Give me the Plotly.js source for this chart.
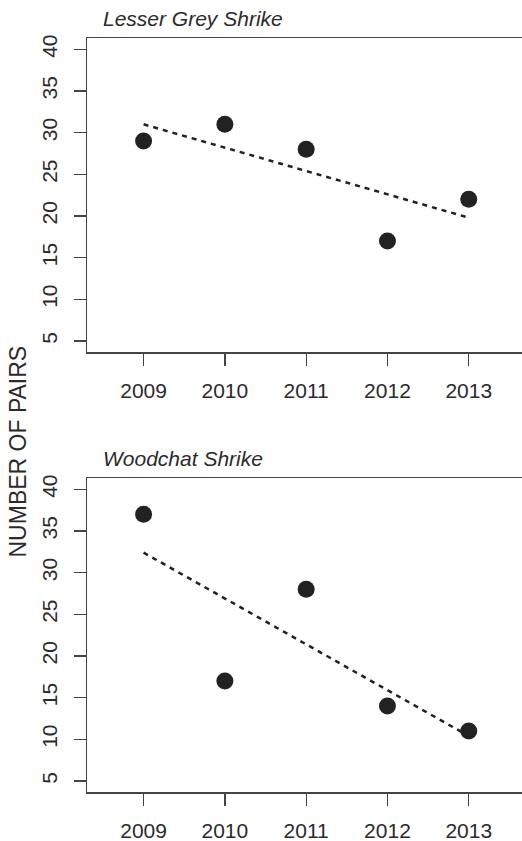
<!DOCTYPE html>
<html>
<head>
<meta charset="utf-8">
<script src="https://cdn.plot.ly/plotly-3.0.1.min.js"></script>
<style>
html,body{margin:0;padding:0;background:#fff;}
#chart{width:522px;height:841px;}
</style>
</head>
<body>
<div id="chart"></div>
<script>
// Data
const years = [2009, 2010, 2011, 2012, 2013];
const lesserGrey = [29, 31, 28, 17, 22];
const woodchat = [37, 17, 28, 14, 11];
const trendYears = [2009, 2013];
const lesserGreyTrend = [31.0, 19.8];
const woodchatTrend = [32.4, 10.4];
const panelTitles = ["Lesser Grey Shrike", "Woodchat Shrike"];
const yTicks = [5, 10, 15, 20, 25, 30, 35, 40];
const yAxisTitle = "NUMBER OF PAIRS";

const FONT = "Liberation Sans, Arial, sans-serif";
const TXT = "#2b2b2b";
const LINE = "#444";

function pts(y, xa, ya) {
  return {x: years, y: y, xaxis: xa, yaxis: ya, type: "scatter", mode: "markers",
    marker: {size: 17, color: "#222"}, hoverinfo: "skip", showlegend: false, cliponaxis: false};
}
function trend(y, xa, ya) {
  return {x: trendYears, y: y, xaxis: xa, yaxis: ya, type: "scatter", mode: "lines",
    line: {color: "#222", width: 2.5, dash: "5px,5px"}, hoverinfo: "skip", showlegend: false};
}

const xCommon = {
  range: [2008.304, 2013.655], tickvals: years, ticktext: years.map(String),
  showline: true, mirror: true, linecolor: LINE, linewidth: 1.5,
  ticks: "outside", ticklen: 12, tickwidth: 1.3, tickcolor: LINE,
  ticklabelstandoff: 7,
  showgrid: false, zeroline: false, fixedrange: true,
  tickfont: {family: FONT, size: 21, color: TXT}
};
const yCommon = {
  range: [3.68, 41.32], tickvals: yTicks, ticktext: yTicks.map(String),
  showline: true, linecolor: LINE, linewidth: 1.5,
  ticks: "outside", ticklen: 12, tickwidth: 1.3, tickcolor: LINE,
  tickangle: -90, ticklabelstandoff: 8,
  showgrid: false, zeroline: false, fixedrange: true,
  tickfont: {family: FONT, size: 21, color: TXT}
};

const H = 841;
const layout = {
  width: 522, height: 841,
  margin: {l: 87, r: 0, t: 0, b: 0},
  paper_bgcolor: "#fff", plot_bgcolor: "#fff",
  xaxis: Object.assign({}, xCommon, {anchor: "y", domain: [0, 1]}),
  yaxis: Object.assign({}, yCommon, {anchor: "x", domain: [1 - 352 / H, 1 - 38.3 / H]}),
  xaxis2: Object.assign({}, xCommon, {anchor: "y2", domain: [0, 1]}),
  yaxis2: Object.assign({}, yCommon, {anchor: "x2", domain: [1 - 792 / H, 1 - 478.3 / H]}),
  annotations: [
    {text: panelTitles[0], xref: "paper", yref: "paper", x: (101 - 87) / 435, xanchor: "left",
      y: 1 - 18.5 / H, yanchor: "middle", showarrow: false,
      font: {family: FONT, size: 21, color: TXT, style: "italic"}},
    {text: panelTitles[1], xref: "paper", yref: "paper", x: (101 - 87) / 435, xanchor: "left",
      y: 1 - 458.5 / H, yanchor: "middle", showarrow: false,
      font: {family: FONT, size: 21, color: TXT, style: "italic"}},
    {text: yAxisTitle, xref: "paper", yref: "paper", x: (17 - 87) / 435, xanchor: "center",
      y: 1 - 451.5 / H, yanchor: "middle", textangle: -90, showarrow: false,
      font: {family: FONT, size: 23, color: TXT}}
  ]
};

const data = [
  trend(lesserGreyTrend, "x", "y"), pts(lesserGrey, "x", "y"),
  trend(woodchatTrend, "x2", "y2"), pts(woodchat, "x2", "y2")
];

Plotly.newPlot("chart", data, layout, {staticPlot: true, displayModeBar: false});
</script>
</body>
</html>
